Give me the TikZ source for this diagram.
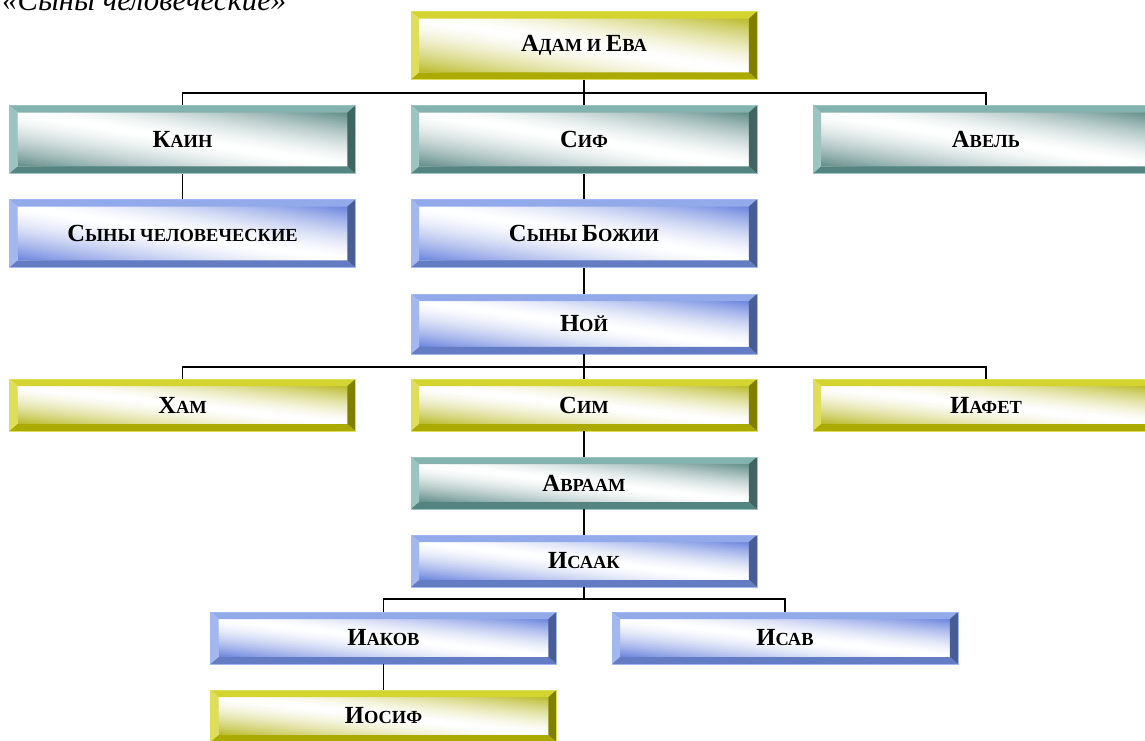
\documentclass[tikz,border=0pt]{standalone}
\usepackage{fontspec}
\setmainfont{Liberation Serif}
\usetikzlibrary{calc}

\definecolor{ylTop}{RGB}{212,212,48}
\definecolor{ylLeft}{RGB}{222,222,90}
\definecolor{ylBot}{RGB}{170,170,0}
\definecolor{ylRight}{RGB}{128,128,0}
\definecolor{ylIn}{RGB}{186,186,40}
\definecolor{tlTop}{RGB}{132,178,174}
\definecolor{tlLeft}{RGB}{156,196,192}
\definecolor{tlBot}{RGB}{84,132,128}
\definecolor{tlRight}{RGB}{64,100,96}
\definecolor{tlIn}{RGB}{96,140,136}
\definecolor{blTop}{RGB}{146,170,234}
\definecolor{blLeft}{RGB}{164,184,240}
\definecolor{blBot}{RGB}{100,124,196}
\definecolor{blRight}{RGB}{72,92,150}
\definecolor{blIn}{RGB}{106,132,222}

% first letter large, rest as small capitals
\newcommand\scword[2]{{\fontsize{14}{16}\selectfont #1}{\fontsize{10.5}{12}\selectfont #2}}

\tikzset{
	fambox/.style n args={5}{draw=#2, line width=0.4pt, inner sep=0pt, fill=white,
		minimum width=6.92cm, font=\bfseries,
		path picture={
			\coordinate (bbsw) at ([shift={(0.16cm,0.14cm)}]path picture bounding box.south west);
			\coordinate (bbse) at ([shift={(-0.16cm,0.14cm)}]path picture bounding box.south east);
			\coordinate (bbnw) at ([shift={(0.16cm,-0.14cm)}]path picture bounding box.north west);
			% diagonal bands: colour in the lower left and upper right corners
			\foreach \k in {0,...,49} {
				\pgfmathsetmacro\ca{\k/25}
				\pgfmathtruncatemacro\mx{(abs((\k+0.5)/25-1))^1.5*100}
				\fill[#5!\mx!white] ($(bbsw)!\ca!(bbse)$) -- ($(bbsw)!\ca!(bbnw)$) -- ($(bbsw)!2.2!(bbnw)$) -- ($(bbsw)!2.2!(bbse)$) -- cycle;
			}
			\fill[#1] (path picture bounding box.north west) -- ([shift={(0.16cm,-0.14cm)}]path picture bounding box.north west)
			-- ([shift={(-0.16cm,-0.14cm)}]path picture bounding box.north east) -- (path picture bounding box.north east) -- cycle;
			\fill[#2] (path picture bounding box.north west) -- ([shift={(0.16cm,-0.14cm)}]path picture bounding box.north west)
			-- ([shift={(0.16cm,0.14cm)}]path picture bounding box.south west) -- (path picture bounding box.south west) -- cycle;
			\fill[#3] (path picture bounding box.south west) -- ([shift={(0.16cm,0.14cm)}]path picture bounding box.south west)
			-- ([shift={(-0.16cm,0.14cm)}]path picture bounding box.south east) -- (path picture bounding box.south east) -- cycle;
			\fill[#4] (path picture bounding box.south east) -- ([shift={(-0.16cm,0.14cm)}]path picture bounding box.south east)
			-- ([shift={(-0.16cm,-0.14cm)}]path picture bounding box.north east) -- (path picture bounding box.north east) -- cycle;
		}},
	famyellow/.style={fambox={ylTop}{ylLeft}{ylBot}{ylRight}{ylIn}},
	famteal/.style={fambox={tlTop}{tlLeft}{tlBot}{tlRight}{tlIn}},
	famblue/.style={fambox={blTop}{blLeft}{blBot}{blRight}{blIn}},
	tallbox/.style={minimum height=1.36cm},
	noibox/.style={minimum height=1.2cm},
	lowbox/.style={minimum height=1.04cm},
	link/.style={line width=1pt, black}
}

\begin{document}
\begin{tikzpicture}[x=0.02cm, y=-0.02cm]
	\useasboundingbox (0,0) rectangle (1145,740);
	\clip (0,0) rectangle (1145,740);
	
	\node[anchor=base west, font=\itshape\fontsize{17.5}{20}\selectfont] (title) at (-4,11) {«Сыны человеческие»};
	
	% first generations
	\node[famyellow, tallbox] (adam) at (584,45.5) {\scword{А}{ДАМ И }\scword{Е}{ВА}};
	\node[famteal, tallbox] (kain) at (182.5,139.5) {\scword{К}{АИН}};
	\node[famteal, tallbox] (sif) at (584,139.5) {\scword{С}{ИФ}};
	\node[famteal, tallbox] (avel) at (986,139.5) {\scword{А}{ВЕЛЬ}};
	\node[famblue, tallbox] (synych) at (182.5,233.5) {\scword{С}{ЫНЫ ЧЕЛОВЕЧЕСКИЕ}};
	\node[famblue, tallbox] (synyb) at (584,233.5) {\scword{С}{ЫНЫ }\scword{Б}{ОЖИИ}};
	\node[famblue, noibox] (noi) at (584,324) {\scword{Н}{ОЙ}};
	
	% after the flood
	\node[famyellow, lowbox] (ham) at (182.5,405) {\scword{Х}{АМ}};
	\node[famyellow, lowbox] (sim) at (584,405) {\scword{С}{ИМ}};
	\node[famyellow, lowbox] (iafet) at (986,405) {\scword{И}{АФЕТ}};
	\node[famteal, lowbox] (avraam) at (584,483) {\scword{А}{ВРААМ}};
	\node[famblue, lowbox] (isaak) at (584,561) {\scword{И}{СААК}};
	\node[famblue, lowbox] (iakov) at (383.5,638) {\scword{И}{АКОВ}};
	\node[famblue, lowbox] (isav) at (785,638) {\scword{И}{САВ}};
	\node[famyellow, lowbox] (iosif) at (383.5,716) {\scword{И}{ОСИФ}};
	
	% connectors
	\draw[link] (adam.south) -- ++(0,13) -| (kain.north);
	\draw[link] (adam.south) -- (sif.north);
	\draw[link] (adam.south) -- ++(0,13) -| (avel.north);
	\draw[link] (kain) -- (synych);
	\draw[link] (sif) -- (synyb);
	\draw[link] (synyb) -- (noi);
	\draw[link] (noi.south) -- ++(0,13) -| (ham.north);
	\draw[link] (noi.south) -- (sim.north);
	\draw[link] (noi.south) -- ++(0,13) -| (iafet.north);
	\draw[link] (sim) -- (avraam);
	\draw[link] (avraam) -- (isaak);
	\draw[link] (isaak.south) -- ++(0,12) -| (iakov.north);
	\draw[link] (isaak.south) -- ++(0,12) -| (isav.north);
	\draw[link] (iakov) -- (iosif);
\end{tikzpicture}
\end{document}
